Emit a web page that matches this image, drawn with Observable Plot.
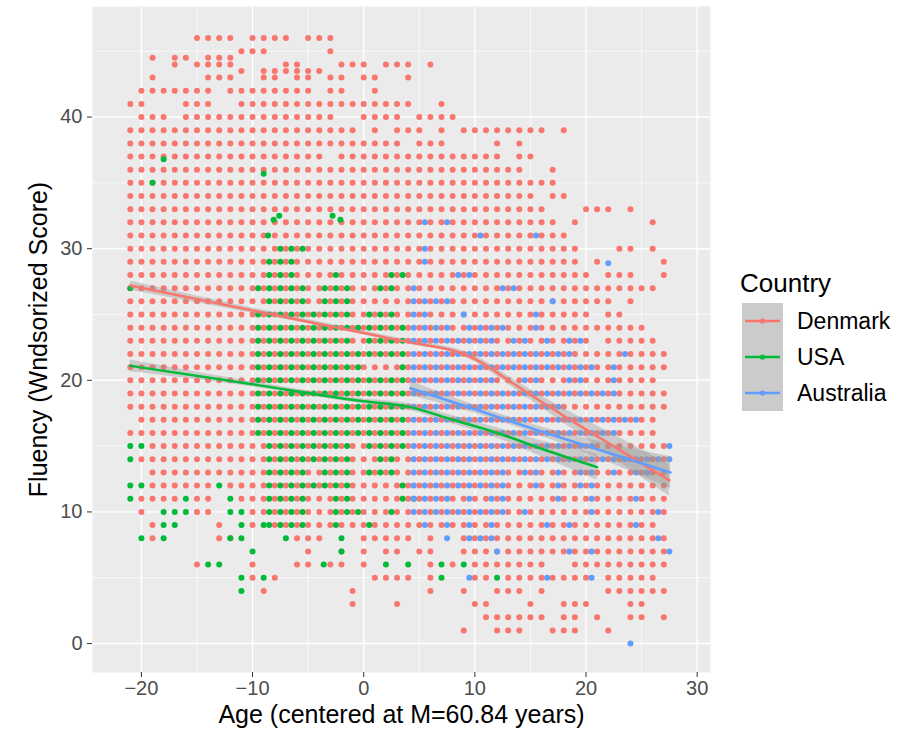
<!DOCTYPE html>
<html>
<head>
<meta charset="utf-8">
<script src="https://cdn.jsdelivr.net/npm/d3@7"></script>
<script src="https://cdn.jsdelivr.net/npm/@observablehq/plot@0.6"></script>
<style>
  body { margin: 0; background: #ffffff; font-family: "Liberation Sans", Arial, sans-serif; }
  #chart { position: relative; width: 910px; height: 735px; }
  #legend { position: absolute; left: 736px; top: 258px; }
</style>
</head>
<body>
<div id="chart"></div>
<script>
// Countries and their colours
const countries = ["Denmark", "USA", "Australia"];
const countryColors = ["#F8766D", "#00BA38", "#619CFF"];

// Axis ticks
const ageTicks = [-20, -10, 0, 10, 20, 30];
const ageMinor = [-15, -5, 5, 15, 25];
const scoreTicks = [0, 10, 20, 30, 40];
const scoreMinor = [5, 15, 25, 35, 45];

// Observations, one entry per score row: [score, ages]
// ages: comma list, "a:b" = every age from a to b in steps of one year
const denmarkRows = [
  [46, "-15:-12,-10:-7,-5:-3"],
  [45, "-11:-9,-3"],
  [44.5, "-19,-17,-16,-14:-12"],
  [44, "-17,-15:-12,-7,-6,-2:0,2:4,6"],
  [43.5, "-11,-9:-4"],
  [43, "-19,-14:-12,-9,-8,-6,-5,-3,-2,0,1,4"],
  [42, "-20:-14,-12:-5,-3,-2,1"],
  [41, "-21,-20,-16:-14,-11:4,7"],
  [40, "-20:-18,-16:-3,0:3,5:8"],
  [39, "-21:-1,1,3:5,7,9:16,18"],
  [38, "-21:3,5:7,12,14"],
  [37, "-21:-4,-2:12,14,15"],
  [36, "-21:14,17"],
  [35, "-21:17"],
  [34, "-21:15,17,18"],
  [33, "-21:16,20:22,24"],
  [32, "-21:17,19,26"],
  [31, "-21:18"],
  [30, "-21:19,23,24,26"],
  [29, "-21:19,21,27"],
  [28, "-21:20,22:24,27"],
  [27, "-21:26"],
  [26, "-21:22,24"],
  [25, "-21:20,22,23"],
  [24, "-21:25"],
  [23, "-21:20,22:26"],
  [22, "-21:27"],
  [21, "-21:27"],
  [20, "-21:26"],
  [19, "-21:27"],
  [18, "-21:27"],
  [17, "-20:26"],
  [16, "-21:26"],
  [15, "-19:27"],
  [14, "-20:27"],
  [13, "-19:27"],
  [12, "-19:-14,-12:27"],
  [11, "-20:-17,-15,-14,-11:27"],
  [10, "-20,-15,-14,-10:27"],
  [9, "-19,-13,-10,-8:26"],
  [8, "-19,-13,-12,-6:-4,0:4,6,9:27"],
  [7, "-5,-2,0,2,3,5,6,9:27"],
  [6, "-15,-10,-6,-5,-3,-2,0,6,8,10:16,19:27"],
  [5, "-10,-8,1:4,6,10,11,13:20,22:26"],
  [4, "-9,-1,6,9,12:14,16,22:27"],
  [3, "-1,3,10,11,15,18:20,24,25"],
  [2, "11:16,18,19,21,24,25,27"],
  [1, "9,12:14,17:19,22"]
];

const usaRows = [
  [36.8, "-18"],
  [35.7, "-9"],
  [35, "-19"],
  [32.5, "-7.6,-2.8"],
  [32.2, "-8.1,-2.1"],
  [31, "-8.6"],
  [30, "-7.5:-5.5"],
  [29, "-8.5:-6.5"],
  [28, "-8.5:-6.5,-2.5,2.5:3.5"],
  [27, "-21,-9.5:-5.5,-3.5:-1.5,1.5:2.5"],
  [26, "-8.5:-5.5,-3.5:-1.5"],
  [25, "-9.5:-1.5,0.5:1.5,2.5"],
  [24, "-9.5:-1.5,-0.5:3.5"],
  [23, "-9.5:-1.5,0.5:3.5"],
  [22, "-9.5:-0.5,0.5:3.5"],
  [21, "-9.5:-0.5,3.5"],
  [20, "-9.5:-0.5,0.5:3.5"],
  [19, "-9.5:3.5"],
  [18, "-9.5:-0.5,0.5:3.5"],
  [17, "-9.5:-0.5,0.5:3.5"],
  [16, "-9.5:-0.5,0.5:3.5"],
  [15, "-21,-20,-8.5:-1.5,0.5:3.5"],
  [14, "-21,-8.5:-1.5,1.5:2.5"],
  [13, "-8.5:-5.5,-3.5:-1.5,0.5:2.5"],
  [12, "-21,-20,-13,-8.5:-5.5,-4.5:-1.5,3.5"],
  [11, "-21,-16,-12,-8.5:-5.5,-2.5:-1.5,3.5:4.5"],
  [10, "-18:-16,-12,-11,-8.5:-5.5,-2.5:-0.5,2.5"],
  [9, "-18,-17,-11,-9,-8.5:-5.5,-2.5,0.5"],
  [8, "-20,-18,-12,-11,-7,-2"],
  [7, "-10,-2"],
  [6, "-14,-13,-3.6,2,4,7,9"],
  [5, "-11,-9,7,12"],
  [4, "-11"]
];

const australiaRows = [
  [32, "5.5,7.5"],
  [31, "10.5,15.5"],
  [30, "5.5"],
  [29, "5.5"],
  [28.9, "22"],
  [28, "8.5,9.5"],
  [27, "4.5,12.5,13.5"],
  [26, "4.5:7.5,17"],
  [25, "4.5:5.5,9,15.5"],
  [24, "4.5:5.5,6.5:7.5,9.5:11.5,12.5,15.5"],
  [23, "4.5:11.5,13.5,14.5,16.5,18.5,19.5"],
  [22, "4.5:18.5,23.5"],
  [21, "4.5:20.5,22.5"],
  [20, "4.5:11.5,14.5,15.5,18.5,19.5,22.5"],
  [19, "4.5:22.5"],
  [18, "4.5:17.5"],
  [17, "4.5:24.5"],
  [16, "4.5:22.5"],
  [15, "4.5:20.5,27.5"],
  [14, "4.5:27.5"],
  [13, "4.5:12.5,14.5:15.5,17.5,19.5:20.5,22.5,24.5:25.5"],
  [12, "4.5:12.5,15.5,17.5,19.5,20.5"],
  [11, "4.5:7.5,9.5,11.5,12.5,17.5,20.5,24.5"],
  [10, "4.5:11.5,12.5,14.5,20.5,26.5"],
  [9, "5.5,7.5,9.5,11.5,16.5,18.5,24.5"],
  [8, "7.5,9.5:11.5,26.5"],
  [7, "12,18.5,20.5,27.5"],
  [5, "9.5,16.5,20.5"],
  [0, "24"]
];

// Smoothed fits (loess) with standard-error half widths
const denmarkFitAge = [-21, -10, 0, 4, 9, 10.5, 12.5, 15, 18, 21.3, 24, 27.5];
const denmarkFitScore = [27.2, 25.3, 23.6, 22.9, 22.0, 21.4, 20.3, 18.9, 17.3, 15.6, 14.2, 12.4];
const denmarkFitSe = [0.35, 0.2, 0.15, 0.15, 0.2, 0.25, 0.3, 0.4, 0.55, 0.8, 1.0, 1.2];

const usaFitAge = [-21, -10, 0, 4, 8, 12, 16, 21];
const usaFitScore = [21.1, 19.7, 18.4, 18.0, 17.0, 16.0, 14.8, 13.4];
const usaFitSe = [0.45, 0.2, 0.2, 0.25, 0.3, 0.4, 0.6, 1.0];

const australiaFitAge = [4.2, 10, 16, 22, 27.6];
const australiaFitScore = [19.4, 17.8, 16.1, 14.5, 13.0];
const australiaFitSe = [0.55, 0.3, 0.35, 0.7, 1.2];

// ---- build tables ----
function expandAges(spec) {
  const out = [];
  for (const part of spec.split(",")) {
    if (part.includes(":")) {
      const [a, b] = part.split(":").map(Number);
      for (let v = a; v <= b + 1e-9; v += 1) out.push(v);
    } else out.push(+part);
  }
  return out;
}
function points(rows, country) {
  return rows.flatMap(([score, spec]) => expandAges(spec).map(age => ({age, score, country})));
}
function fit(ages, scores, ses, country) {
  return ages.map((age, i) => ({age, score: scores[i], lo: scores[i] - ses[i], hi: scores[i] + ses[i], country}));
}

const obs = [
  ...points(denmarkRows, "Denmark"),
  ...points(usaRows, "USA"),
  ...points(australiaRows, "Australia")
];
const fits = [
  ...fit(denmarkFitAge, denmarkFitScore, denmarkFitSe, "Denmark"),
  ...fit(usaFitAge, usaFitScore, usaFitSe, "USA"),
  ...fit(australiaFitAge, australiaFitScore, australiaFitSe, "Australia")
];

const font = "Liberation Sans, Arial, sans-serif";

const chart = Plot.plot({
  width: 712,
  height: 735,
  marginLeft: 92,
  marginRight: 2,
  marginTop: 6,
  marginBottom: 63,
  style: {fontFamily: font, background: "#ffffff", overflow: "visible"},
  x: {domain: [-24.4, 31.2]},
  y: {domain: [-2.2, 48.4]},
  color: {domain: countries, range: countryColors},
  marks: [
    Plot.frame({fill: "#EBEBEB", stroke: null}),
    Plot.gridX(ageMinor, {stroke: "#ffffff", strokeOpacity: 1, strokeWidth: 0.7}),
    Plot.gridY(scoreMinor, {stroke: "#ffffff", strokeOpacity: 1, strokeWidth: 0.7}),
    Plot.gridX(ageTicks, {stroke: "#ffffff", strokeOpacity: 1, strokeWidth: 1.4}),
    Plot.gridY(scoreTicks, {stroke: "#ffffff", strokeOpacity: 1, strokeWidth: 1.4}),
    Plot.dot(obs, {x: "age", y: "score", fill: "country", r: 3.0, stroke: null}),
    Plot.areaY(fits, {x: "age", y1: "lo", y2: "hi", z: "country", fill: "#999999", fillOpacity: 0.4, curve: "monotone-x"}),
    Plot.line(fits, {x: "age", y: "score", z: "country", stroke: "country", strokeWidth: 2.5, curve: "monotone-x"}),
    Plot.axisX(ageTicks, {tickSize: 5, tickPadding: 3, fontSize: 20, color: "#4D4D4D", stroke: "#333333", label: null}),
    Plot.axisY(scoreTicks, {tickSize: 5, tickPadding: 5, fontSize: 20, color: "#4D4D4D", stroke: "#333333", label: null}),
    Plot.text(["Age (centered at M=60.84 years)"], {frameAnchor: "bottom", dy: 50, fontSize: 25, fill: "#000000", textAnchor: "middle"}),
    Plot.text(["Fluency (Wndsorized Score)"], {frameAnchor: "left", dx: -54, rotate: -90, fontSize: 25, fill: "#000000", textAnchor: "middle"})
  ]
});

const host = document.getElementById("chart");
host.appendChild(chart);

// ---- legend ----
const keyW = 41, keyH = 36, keyTop = 45;
const legend = d3.select(host).append("svg")
  .attr("id", "legend")
  .attr("width", 174)
  .attr("height", 160)
  .style("font-family", font);

legend.append("text")
  .attr("x", 4).attr("y", 34)
  .attr("font-size", 26)
  .attr("fill", "#000")
  .text("Country");

const keys = legend.selectAll("g.key").data(countries).join("g")
  .attr("class", "key")
  .attr("transform", (d, i) => `translate(6,${keyTop + i * keyH})`);
keys.append("rect").attr("width", keyW).attr("height", keyH).attr("fill", "#CBCBCB");
keys.append("line")
  .attr("x1", 3).attr("x2", keyW - 3)
  .attr("y1", keyH / 2).attr("y2", keyH / 2)
  .attr("stroke", (d, i) => countryColors[i])
  .attr("stroke-width", 2.6);
keys.append("circle")
  .attr("cx", keyW / 2).attr("cy", keyH / 2).attr("r", 2.6)
  .attr("fill", (d, i) => countryColors[i]);
keys.append("text")
  .attr("x", keyW + 14).attr("y", keyH / 2)
  .attr("dy", "0.35em")
  .attr("font-size", 23)
  .attr("fill", "#000")
  .text(d => d);
</script>
</body>
</html>
